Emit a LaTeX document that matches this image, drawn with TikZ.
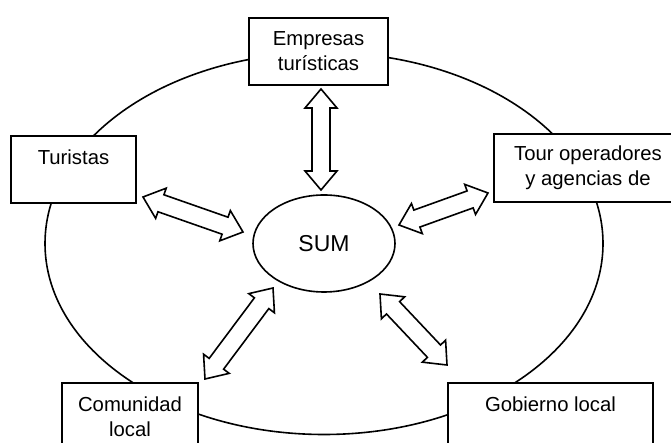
\documentclass[tikz,border=0pt]{standalone}
\usepackage{fontspec}
\setmainfont{Liberation Sans}
\usetikzlibrary{calc,shapes.geometric}
\tikzstyle{actor} = [rectangle, draw, fill=white, line width=2.4pt, align=center, inner sep=0pt, font=\fontsize{20.3}{25}\selectfont]
\tikzstyle{core} = [ellipse, draw, fill=white, line width=1.6pt, inner sep=0pt, minimum width=142pt, minimum height=97pt, font=\fontsize{23}{27}\selectfont]
\tikzstyle{flow} = [draw, fill=white, line width=1.6pt, line join=miter]
% hollow double-headed arrow between two points
\newcommand{\blockarrow}[2]{%
  \path[flow] (#1)
    -- ($(#1)!19pt!(#2)!16pt!90:(#2)$) -- ($(#1)!19pt!(#2)!9pt!90:(#2)$)
    -- ($(#2)!19pt!(#1)!9pt!-90:(#1)$) -- ($(#2)!19pt!(#1)!16pt!-90:(#1)$)
    -- (#2)
    -- ($(#2)!19pt!(#1)!16pt!90:(#1)$) -- ($(#2)!19pt!(#1)!9pt!90:(#1)$)
    -- ($(#1)!19pt!(#2)!9pt!-90:(#2)$) -- ($(#1)!19pt!(#2)!16pt!-90:(#2)$)
    -- cycle;}
\tikzset{every node/.append style={text=black}}

\begin{document}
\begin{tikzpicture}[x=1pt,y=1pt]
  \useasboundingbox (0,0) rectangle (671,443);
  \node[core] (sum) at (324,199.5) {SUM};
  \draw[line width=1.6pt] (sum.center) ellipse [x radius=279, y radius=191];

  \node[actor, minimum width=139pt, minimum height=67pt] (emp) at (318.5,391.5) {Empresas\\tur\'isticas};
  \node[actor, minimum width=125pt, minimum height=67pt] (tur) at (73.5,273.5) {Turistas\\\phantom{x}};
  \node[actor, minimum width=188pt, minimum height=68pt] (tour) at (588,275) {Tour operadores\\y agencias de};
  \node[actor, minimum width=136pt, minimum height=67pt] (com) at (130,26.5) {Comunidad\\local};
  \node[actor, minimum width=205pt, minimum height=67pt] (gob) at (550.5,26.5) {Gobierno local\\\phantom{x}};

  % arrow ends
  \coordinate (emp-a) at (321,354);
  \coordinate (emp-b) at (321,253);
  \coordinate (tur-a) at (143,246);
  \coordinate (tur-b) at (243,211);
  \coordinate (tour-a) at (488,250);
  \coordinate (tour-b) at (399,218);
  \coordinate (com-a) at (205,64);
  \coordinate (com-b) at (273,155);
  \coordinate (gob-a) at (380,149);
  \coordinate (gob-b) at (447,78);

  \blockarrow{emp-a}{emp-b}
  \blockarrow{tur-a}{tur-b}
  \blockarrow{tour-a}{tour-b}
  \blockarrow{com-a}{com-b}
  \blockarrow{gob-a}{gob-b}
\end{tikzpicture}
\end{document}
